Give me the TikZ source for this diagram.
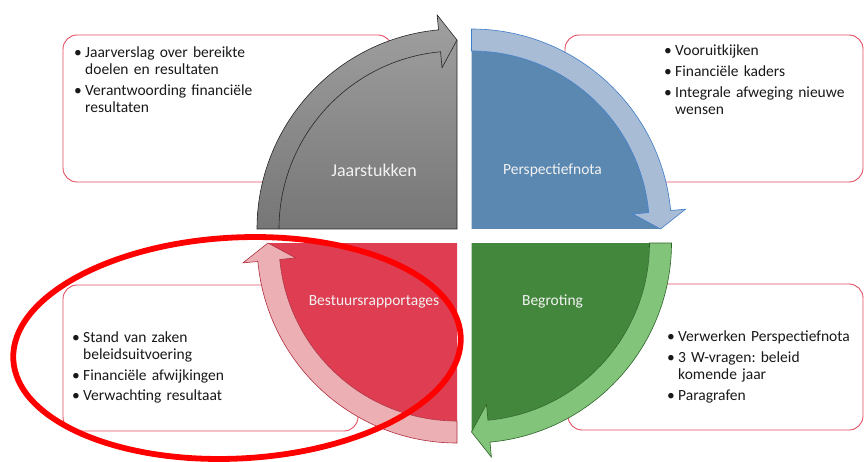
\documentclass[tikz,border=0pt]{standalone}
\usepackage{fontspec}
\setmainfont{Carlito}
\frenchspacing
\definecolor{gtop}{RGB}{160,160,160}
\definecolor{gbot}{RGB}{118,118,118}
\definecolor{bluedark}{RGB}{91,136,177}
\definecolor{bluelight}{RGB}{169,188,213}
\definecolor{blueline}{RGB}{61,124,201}
\definecolor{reddark}{RGB}{222,61,82}
\definecolor{redlight}{RGB}{236,176,180}
\definecolor{redline}{RGB}{175,45,62}
\definecolor{greendark}{RGB}{67,135,60}
\definecolor{greenlight}{RGB}{130,196,122}
\definecolor{greenline}{RGB}{45,100,40}
\definecolor{boxline}{RGB}{228,78,98}
\definecolor{txtcol}{RGB}{25,25,25}
\newcommand{\bl}{\makebox[11pt][l]{•}}
\newcommand{\ind}{\hspace*{11pt}}
\tikzset{
  infobox/.style={draw=boxline, line width=0.9pt, fill=white, rounded corners=14pt},
  txt/.style={font=\fontsize{15.5}{17}\selectfont, text width=280pt, align=left, inner sep=0pt, text=txtcol, anchor=base west},
  lbl/.style={font=\fontsize{15.5}{18}\selectfont, text=white!95!black, inner sep=0pt},
  edge/.style={line width=0.6pt}
}
\begin{document}
\begin{tikzpicture}[x=1pt,y=1pt]
\useasboundingbox (0,0) rectangle (864,461);
% text boxes
\draw[infobox] (63,279) rectangle (392,426);
\draw[infobox] (565,279) rectangle (863,426);
\draw[infobox] (63,30) rectangle (358,176);
\draw[infobox] (568,31) rectangle (863,177);
% texts
\node[txt] (tltext) at (74,403.5) {\bl Jaarverslag over bereikte\\\ind doelen en resultaten\\[4.5pt]\bl Verantwoording financiële\\\ind resultaten};
\node[txt] (trtext) at (664,405) {\bl Vooruitkijken\\[4pt]\bl Financiële kaders\\[4pt]\bl Integrale afweging nieuwe\\\ind wensen};
\node[txt] (bltext) at (72,118.5) {\bl Stand van zaken\\\ind beleidsuitvoering\\[3.5pt]\bl Financiële afwijkingen\\[3.5pt]\bl Verwachting resultaat};
\node[txt] (brtext) at (667,120) {\bl Verwerken Perspectiefnota\\[4pt]\bl 3 W-vragen: beleid\\\ind komende jaar\\[4pt]\bl Paragrafen};
% gray quarter (Jaarstukken)
\begin{scope}[shift={(457,232)}]
  \path[top color=gtop, bottom color=gbot, draw=black!85, edge]
    (0,0) -- (180:200) arc[start angle=180, end angle=95.3, radius=200]
    -- (95.3:215) -- (90:189) -- cycle;
  \draw[black!85, edge] (180:178) arc[start angle=180, end angle=95.3, radius=178]
    -- (95.3:162) -- (90:189);
\end{scope}
% blue quarter (Perspectiefnota)
\begin{scope}[shift={(471.5,232)}]
  \fill[bluedark] (0,0) -- (90:178) arc[start angle=90, end angle=5.3, radius=178] -- (0:189) -- cycle;
  \draw[fill=bluelight, draw=blueline, edge]
    (90:200) arc[start angle=90, end angle=5.3, radius=200] -- (5.3:215) -- (0:189)
    -- (5.3:162) -- (5.3:178) arc[start angle=5.3, end angle=90, radius=178] -- cycle;
\end{scope}
% red quarter (Bestuursrapportages)
\begin{scope}[shift={(457,218)}]
  \fill[reddark] (0,0) -- (270:178) arc[start angle=270, end angle=185.3, radius=178] -- (180:189) -- cycle;
  \draw[fill=redlight, draw=redline, edge]
    (270:200) arc[start angle=270, end angle=185.3, radius=200] -- (185.3:215) -- (180:189)
    -- (185.3:162) -- (185.3:178) arc[start angle=185.3, end angle=270, radius=178] -- cycle;
\end{scope}
% green quarter (Begroting)
\begin{scope}[shift={(471.5,218)}]
  \fill[greendark] (0,0) -- (0:178) arc[start angle=0, end angle=-84.7, radius=178] -- (-90:189) -- cycle;
  \draw[fill=greenlight, draw=greenline, edge]
    (0:200) arc[start angle=0, end angle=-84.7, radius=200] -- (-84.7:215) -- (-90:189)
    -- (-84.7:162) -- (-84.7:178) arc[start angle=-84.7, end angle=0, radius=178] -- cycle;
\end{scope}
% labels
\node[lbl, font=\fontsize{18}{20}\selectfont] (jaar) at (374,291) {Jaarstukken};
\node[lbl] (pers) at (552.5,291) {Perspectiefnota};
\node[lbl] (best) at (374,159.3) {Bestuursrapportages};
\node[lbl] (begr) at (552.5,159.3) {Begroting};
% red highlight ellipse
\draw[red, line width=5.8pt, rotate around={3:(237,113)}] (237,113) ellipse [x radius=224, y radius=110.5];
\end{tikzpicture}
\end{document}
